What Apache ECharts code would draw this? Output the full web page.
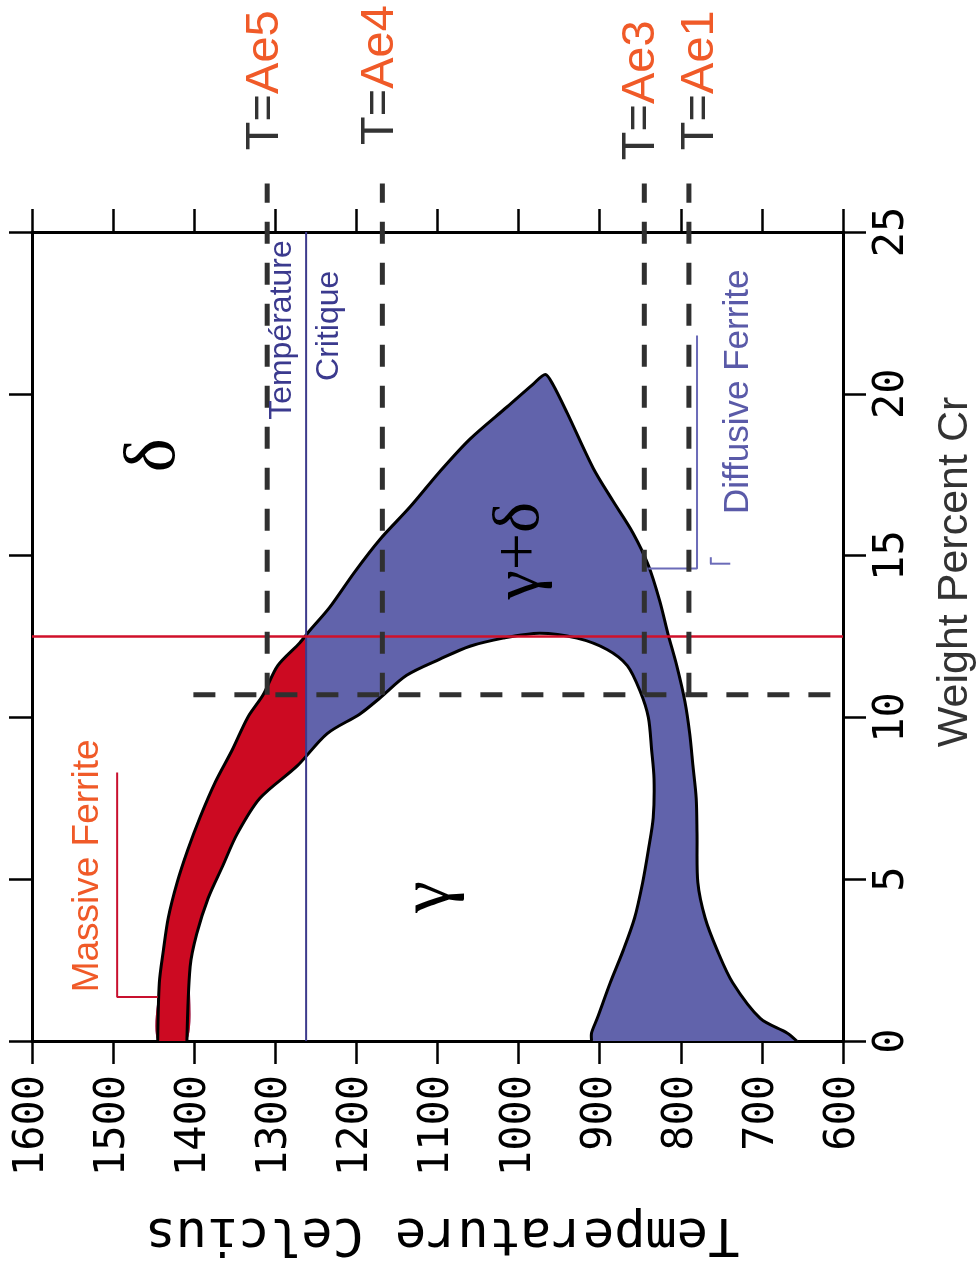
<!DOCTYPE html>
<html><head><meta charset="utf-8">
<script src="https://cdn.jsdelivr.net/npm/echarts@6/dist/echarts.min.js"></script>
<style>html,body{margin:0;padding:0;background:#fff}#c{width:980px;height:1270px}</style>
</head><body><div id="c"></div>
<script>
// ---------- data ----------
const tempTicks = [600,700,800,900,1000,1100,1200,1300,1400,1500,1600];
const crTicks = [0,5,10,15,20,25];

// outer boundary delta / (gamma+delta): temperature (C) and wt% Cr
const outerT  = [1445,1443,1438,1432,1421,1408,1393,1374,1353,1334,1315,1297,1270,1257,1233,1202,1171,1134,1097,1060,1014,982,967,958,940,908,884,859,840,826,816,805,795,789,785,781,780,779,770,755,736,702,669,657];
const outerCr = [0,1.8,2.8,3.8,4.9,5.9,6.9,8.0,9.0,10.0,10.7,11.6,12.3,12.7,13.4,14.5,15.5,16.5,17.6,18.6,19.6,20.3,20.6,20.3,19.4,17.7,16.7,15.7,14.7,13.6,12.6,11.6,10.5,9.5,8.5,7.5,6.4,4.9,3.8,2.8,1.8,0.7,0.25,0];
// inner boundary gamma / (gamma+delta)
const innerT  = [1409,1405,1397,1383,1365,1347,1319,1273,1236,1196,1171,1138,1097,1060,1019,974,928,891,866,850,840,836,833,834,840,847,857,871,887,903,910,910];
const innerCr = [0,2.3,3.3,4.4,5.4,6.4,7.5,8.5,9.5,10.1,10.6,11.3,11.8,12.2,12.45,12.6,12.45,12.1,11.6,10.8,10.0,9.0,8.1,6.9,5.9,4.9,3.8,2.8,1.8,0.7,0.25,0];

const critT = 1262;          // Température Critique
const redLineCr = 12.5;      // composition line
const dashCr = 10.7;         // dashed composition line
const dashStartT = 1401;
const aeNames = ['Ae5','Ae4','Ae3','Ae1'];
const aeT = [1310,1168,845,790];
const aeTopCr = 26.5;
const massiveBracketT = [1445,1495,1495];
const massiveBracketCr = [1.36,1.36,8.3];
const diffusiveBracketT = [840,780,780];
const diffusiveBracketCr = [14.6,14.6,21.8];

// ---------- annotation placement (positions / styles) ----------
const ORANGE = '#f05a28', DARK = '#333333', NAVY = '#3b3a8e';
const annotations = [
  {text:'δ', T:1448, Cr:18.1, font:'72px "Liberation Serif"', color:'#000'},
  {text:'γ', T:1109, Cr:4.45, font:'72px "Liberation Serif"', color:'#000'},
  {text:'γ+δ', T:998, Cr:15.15, font:'66px "Liberation Serif"', color:'#000'},
  {text:'Température', T:1292, Cr:21.97, font:'32px "Liberation Sans"', color:NAVY},
  {text:'Critique', T:1233, Cr:22.1, font:'32px "Liberation Sans"', color:NAVY},
  {text:'Diffusive Ferrite', T:729, Cr:20.06, font:'35px "Liberation Sans"', color:'#5a5aa8'},
  {text:'Massive Ferrite', T:1531, Cr:5.41, font:'37px "Liberation Sans"', color:ORANGE}
];
const aeLabelT = [1313,1171,849,776];
const aeLabelCr = [27.53,27.69,27.22,27.53];
aeNames.forEach((n,i)=>annotations.push({rich:true, name:n, T:aeLabelT[i], Cr:aeLabelCr[i]}));

// ---------- helpers ----------
function pairs(a,b){return a.map((v,i)=>[v,b[i]]);}
const outerPts = pairs(outerT,outerCr), innerPts = pairs(innerT,innerCr);
const band = outerPts.concat(innerPts.slice().reverse());
const SMOOTH = 0.3;
var tMin=tempTicks[0],tMax=tempTicks[tempTicks.length-1],tInt=tempTicks[1]-tempTicks[0];
var cMin=crTicks[0],cMax=crTicks[crTicks.length-1],cInt=crTicks[1]-crTicks[0];

function lineSeries(data,color,width,extra){
  return Object.assign({type:'line',data:data,symbol:'none',silent:true,animation:false,
    lineStyle:{color:color,width:width}},extra||{});
}
const dashStyle = {color:'#303030',width:5,type:[22,19],cap:'butt'};

const series = [
  {type:'custom',z:2,silent:true,clip:true,data:[0],
   renderItem:(p,api)=>{
     const bp = band.map(q=>api.coord(q));
     const a = api.coord([tMax,cMax]), b = api.coord([critT,cMin]);
     return {type:'group',children:[
       {type:'polygon',shape:{points:bp,smooth:SMOOTH},style:{fill:'#6163ab'}},
       {type:'polygon',shape:{points:bp,smooth:SMOOTH},style:{fill:'#cc0a22'},
        clipPath:{type:'rect',shape:{x:a[0]-40,y:a[1]-10,width:b[0]-a[0]+40,height:b[1]-a[1]+20}}},
       {type:'polyline',shape:{points:outerPts.map(q=>api.coord(q)),smooth:SMOOTH},style:{stroke:'#000',lineWidth:3,fill:null}},
       {type:'polyline',shape:{points:innerPts.map(q=>api.coord(q)),smooth:SMOOTH},style:{stroke:'#000',lineWidth:3,fill:null}}
     ]};
   }},
  lineSeries([[critT,cMin],[critT,cMax]],'#3d3a8c',2,{z:4}),
  lineSeries([[tMax,redLineCr],[tMin,redLineCr]],'#d0102a',2.5,{z:4}),
  lineSeries([[dashStartT,dashCr],[tMin,dashCr]],'#333',5,{z:5,lineStyle:dashStyle}),
  lineSeries(pairs(massiveBracketT,massiveBracketCr),'#c8102e',2,{z:4}),
  lineSeries(pairs(diffusiveBracketT,diffusiveBracketCr),'#6b6bb8',2,{z:4}),
  lineSeries([[764,14.75],[739,14.75]],'#6b6bb8',2,{z:4}),
  lineSeries([[763,14.75],[763,14.95]],'#6b6bb8',2,{z:4})
];
aeT.forEach(t=>series.push(lineSeries([[t,dashCr],[t,aeTopCr]],'#333',5,{z:5,clip:false,lineStyle:dashStyle})));

series.push({type:'custom',z:10,silent:true,clip:false,data:annotations.map((a,i)=>i),
  renderItem:(p,api)=>{
    const a=annotations[p.dataIndex];const c=api.coord([a.T,a.Cr]);
    if(a.rich){
      return {type:'text',x:c[0],y:c[1],rotation:Math.PI/2,style:{
        text:'{k|T=}{v|'+a.name+'}',align:'left',verticalAlign:'middle',
        rich:{k:{fill:DARK,font:'47px "Liberation Sans"'},v:{fill:ORANGE,font:'47px "Liberation Sans"'}}}};
    }
    return {type:'text',x:c[0],y:c[1],rotation:Math.PI/2,style:{
      text:a.text,fill:a.color,font:a.font,align:'center',verticalAlign:'middle'}};
  }});

const axisCommon = {
  axisLine:{onZero:false,lineStyle:{color:'#000',width:3}},
  axisTick:{length:23,lineStyle:{color:'#000',width:2.5}},
  splitLine:{show:false}
};
const labelFont = {fontFamily:'"DejaVu Sans Mono", monospace',fontSize:42,color:'#000',formatter:v=>String(v)};

const option = {
  animation:false,
  backgroundColor:'#fff',
  grid:{left:32,right:137,top:232,bottom:229},
  xAxis:[
    Object.assign({type:'value',min:tMin,max:tMax,interval:tInt,inverse:true,position:'bottom',
      axisLabel:Object.assign({rotate:90,margin:34},labelFont)},axisCommon),
    Object.assign({type:'value',min:tMin,max:tMax,interval:tInt,inverse:true,position:'top',
      axisLabel:{show:false}},axisCommon)
  ],
  yAxis:[
    Object.assign({type:'value',min:cMin,max:cMax,interval:cInt,position:'right',
      axisLabel:Object.assign({rotate:90,margin:49,align:'center',verticalAlign:'middle'},labelFont)},axisCommon),
    Object.assign({type:'value',min:cMin,max:cMax,interval:cInt,position:'left',
      axisLabel:{show:false}},axisCommon)
  ],
  graphic:[
    {type:'text',x:442,y:1233,rotation:Math.PI,style:{text:'Temperature Celcius',
      font:'52px "DejaVu Sans Mono", monospace',fill:'#000',align:'center',verticalAlign:'middle'}},
    {type:'text',x:955,y:572,rotation:Math.PI/2,style:{text:'Weight Percent Cr',
      font:'43px "Liberation Sans"',fill:'#333',align:'center',verticalAlign:'middle'}}
  ],
  series:series
};
const chart = echarts.init(document.getElementById('c'),null,{renderer:'canvas'});
chart.setOption(option);
</script></body></html>
